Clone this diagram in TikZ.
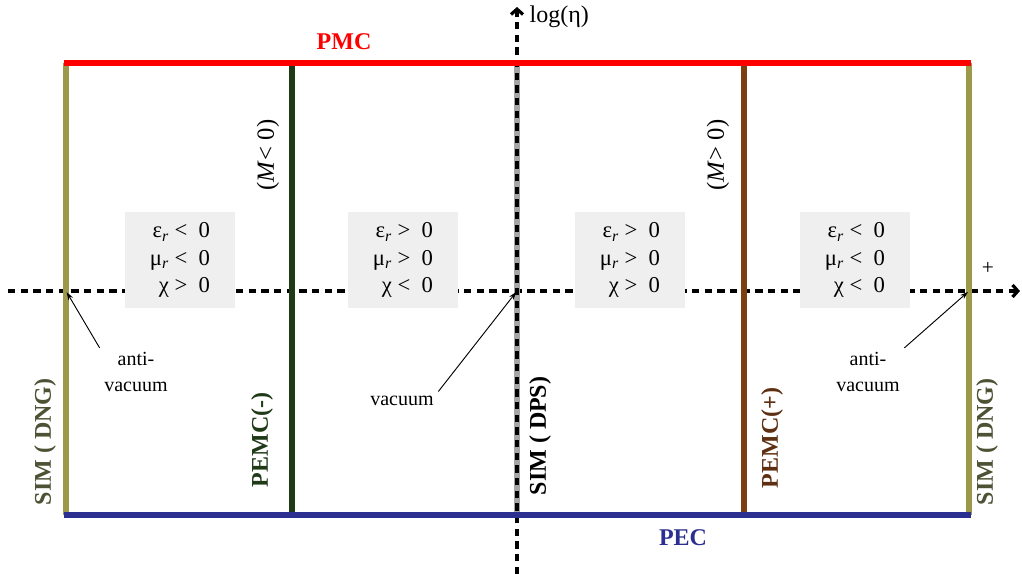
\documentclass[tikz,border=0pt]{standalone}
\usepackage{fontspec}
\setmainfont{Liberation Serif}
\usetikzlibrary{calc}
\usetikzlibrary{arrows.meta}

\definecolor{pmcred}{RGB}{255,0,0}
\definecolor{pecblue}{RGB}{43,47,143}
\definecolor{dngolive}{RGB}{156,154,74}
\definecolor{dngtext}{RGB}{78,82,52}
\definecolor{pemcgreen}{RGB}{30,58,23}
\definecolor{pemcbrown}{RGB}{123,63,18}
\definecolor{pemctext}{RGB}{94,47,16}
\definecolor{dpsgray}{RGB}{166,166,166}
\definecolor{boxgray}{RGB}{239,239,239}

\begin{document}
\begin{tikzpicture}[x=0.75pt, y=0.75pt,
        wall/.style={line width=4.2pt},
        axis/.style={line width=2.4pt, dash pattern=on 5.5pt off 4pt, -{Straight Barb[length=4pt,width=9pt]}},
        region/.style={fill=boxgray, minimum width=82.5pt, minimum height=72pt, align=right, font=\fontsize{17}{20.5}\selectfont},
        medium/.style={rotate=90, font=\fontsize{18}{20}\selectfont\bfseries},
        note/.style={align=center, font=\fontsize{15}{19}\selectfont},
        pointer/.style={line width=0.7pt, -{Stealth[length=6pt,width=4pt]}, shorten >=1pt}]
    \useasboundingbox (0,0) rectangle (1022,574);
    \coordinate (avL) at (66,283);
    \coordinate (vac) at (517,283);
    \coordinate (avR) at (969,283);
    % axes
    \draw[axis] (8,283) -- (1020,283);
    \draw[line width=4.5pt, dpsgray] (517,59) -- (517,511);
    \draw[axis] (517,0) -- (517,567);
    \node[anchor=west, font=\fontsize{18}{20}\selectfont] (logeta) at (525,557) {log(η)};
    \node[font=\fontsize{16}{18}\selectfont] (plus) at (988,306) {+};
    % walls
    \draw[wall, dngolive] (66,59) -- (66,511);
    \draw[wall, pemcgreen] (292,59) -- (292,511);
    \draw[wall, pemcbrown] (744,59) -- (744,511);
    \draw[wall, dngolive] (969,59) -- (969,511);
    \draw[wall, pmcred] (64,511) -- (971,511);
    \draw[wall, pecblue] (64,59) -- (971,59);
    \node[font=\fontsize{18}{20}\selectfont\bfseries, text=pmcred] (pmc) at (344,532) {PMC};
    \node[font=\fontsize{18}{20}\selectfont\bfseries, text=pecblue] (pec) at (683,36) {PEC};
    % regions
    \node[region] (q1) at (180,314) {ε\textsubscript{\textit{r}} <~~0\\ μ\textsubscript{\textit{r}} <~~0\\ χ >~~0};
    \node[region] (q2) at (403,314) {ε\textsubscript{\textit{r}} >~~0\\ μ\textsubscript{\textit{r}} >~~0\\ χ <~~0};
    \node[region] (q3) at (630,314) {ε\textsubscript{\textit{r}} >~~0\\ μ\textsubscript{\textit{r}} >~~0\\ χ >~~0};
    \node[region] (q4) at (855,314) {ε\textsubscript{\textit{r}} <~~0\\ μ\textsubscript{\textit{r}} <~~0\\ χ <~~0};
    \node[rotate=90, font=\fontsize{18.5}{20}\selectfont] (mneg) at (268,419) {(\textit{M}< 0)};
    \node[rotate=90, font=\fontsize{18.5}{20}\selectfont] (mpos) at (718,419) {(\textit{M}> 0)};
    % media
    \node[medium, text=dngtext] (dngL) at (45,132) {SIM ( DNG)};
    \node[medium, text=pemcgreen] (pemcN) at (262,134) {PEMC(-)};
    \node[medium] (dps) at (540,138) {SIM ( DPS)};
    \node[medium, text=pemctext] (pemcP) at (772,136) {PEMC(+)};
    \node[medium, text=dngtext] (dngR) at (987,132) {SIM ( DNG)};
    % vacuum notes
    \node[note] (avltxt) at (136,202) {anti-\\vacuum};
    \node[note] (vactxt) at (402,173) {vacuum};
    \node[note] (avrtxt) at (868,202) {anti-\\vacuum};
    \draw[pointer] (avltxt.north west) -- (avL);
    \draw[pointer] (vactxt.north east) -- (vac);
    \draw[pointer] (avrtxt.north east) -- (avR);
\end{tikzpicture}
\end{document}
